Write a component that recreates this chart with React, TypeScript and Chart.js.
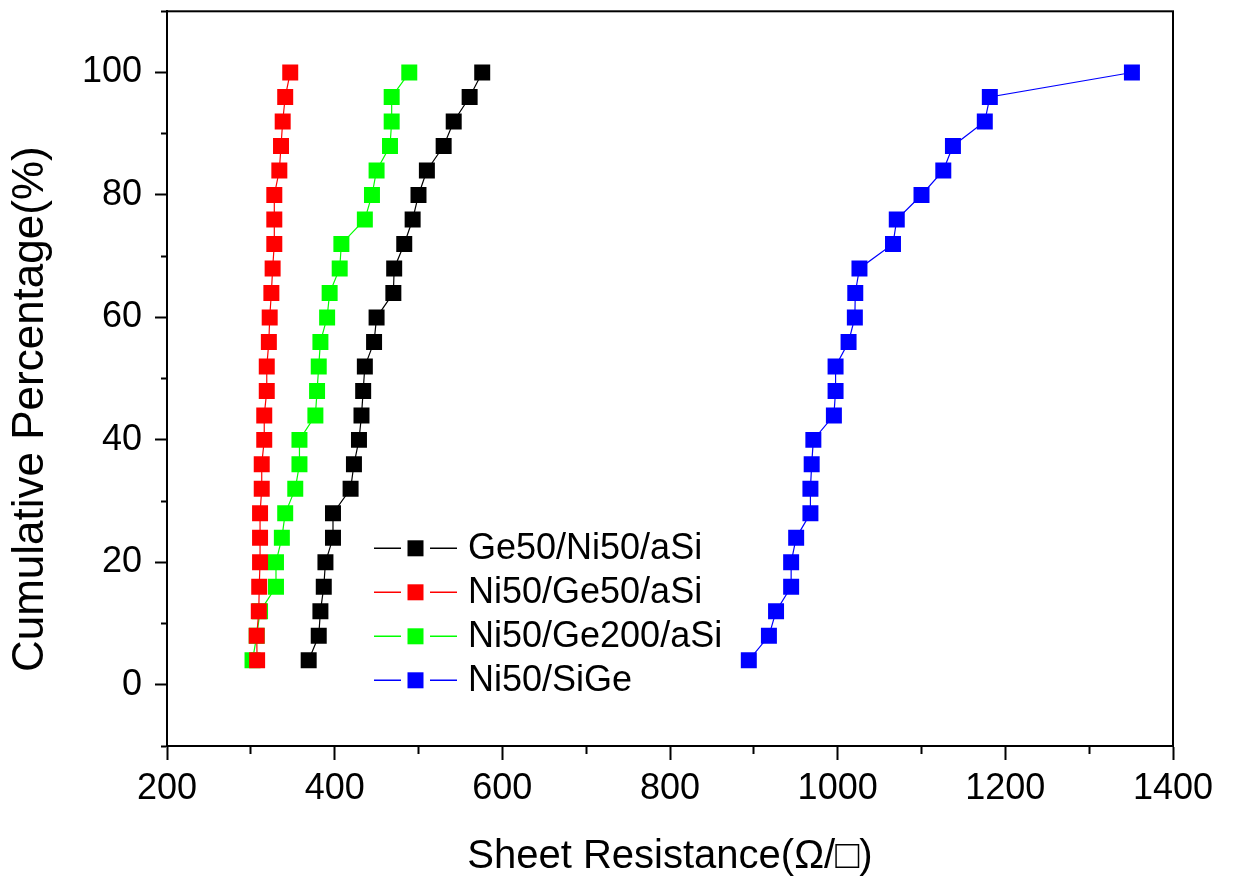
import React, { useEffect, useRef } from 'react';
import { Chart, registerables } from 'chart.js';

Chart.register(...registerables);

// Cumulative percentage levels (y values)
const percent = [4, 8, 12, 16, 20, 24, 28, 32, 36, 40, 44, 48, 52, 56, 60, 64, 68, 72, 76, 80, 84, 88, 92, 96, 100];

// Sheet resistance values (x) for each series
const ge50Ni50aSi = [369, 381, 383, 387, 389, 398, 398, 419, 423, 429, 432, 434, 436, 447, 450, 470, 471, 483, 493, 500, 510, 530, 542, 561, 576];
const ni50Ge50aSi = [307.5, 307, 309.5, 310, 311, 311, 311, 313, 313, 316, 316, 319, 319, 321.5, 322.5, 324.5, 326, 328, 328, 328, 334, 336, 338, 341, 347];
const ni50Ge200aSi = [302, 307, 311, 330, 330, 337, 341, 353, 358, 358, 377, 379, 381, 383, 391, 394, 406, 408, 436, 444.5, 450, 466, 468, 468, 489];
const ni50SiGe = [894, 918, 926.5, 944.5, 944.5, 950.5, 967.5, 967.5, 969, 971, 995.5, 997.5, 997.5, 1013, 1020.5, 1021, 1026, 1066, 1070.5, 1100, 1126, 1137.5, 1175.5, 1181.5, 1351];

const seriesNames = ['Ge50/Ni50/aSi', 'Ni50/Ge50/aSi', 'Ni50/Ge200/aSi', 'Ni50/SiGe'];
const seriesColors = ['#000000', '#ff0000', '#00ff00', '#0000ff'];
const seriesValues = [ge50Ni50aSi, ni50Ge50aSi, ni50Ge200aSi, ni50SiGe];

const xTitle = 'Sheet Resistance(\u03A9/\u25A1)';
const yTitle = 'Cumulative Percentage(%)';

const FONT = '"Liberation Sans", Arial, sans-serif';

const framePlugin = {
  id: 'frame',
  afterDatasetsDraw(chart: any) {
    const { ctx, chartArea: a } = chart;
    ctx.save();
    ctx.strokeStyle = '#000';
    ctx.lineWidth = 2;
    ctx.strokeRect(a.left, a.top, a.right - a.left, a.bottom - a.top);
    ctx.restore();
  },
};

const innerLegendPlugin = {
  id: 'innerLegend',
  afterDraw(chart: any) {
    const { ctx, chartArea: a } = chart;
    const x0 = a.left + 207;
    const y0 = a.top + 537;
    const rowH = 44;
    ctx.save();
    chart.data.datasets.forEach((ds: any, i: number) => {
      const y = y0 + i * rowH;
      ctx.strokeStyle = ds.borderColor;
      ctx.lineWidth = 1.5;
      ctx.beginPath();
      ctx.moveTo(x0, y);
      ctx.lineTo(x0 + 27, y);
      ctx.moveTo(x0 + 56, y);
      ctx.lineTo(x0 + 83, y);
      ctx.stroke();
      ctx.fillStyle = ds.backgroundColor;
      ctx.fillRect(x0 + 33.5, y - 8, 16, 16);
      ctx.fillStyle = '#000';
      ctx.font = `36px ${FONT}`;
      ctx.textAlign = 'left';
      ctx.textBaseline = 'middle';
      ctx.fillText(ds.label, x0 + 94, y + 1);
    });
    ctx.restore();
  },
};

export default function App() {
  const canvasRef = useRef<HTMLCanvasElement | null>(null);

  useEffect(() => {
    document.body.style.margin = '0';
    const canvas = canvasRef.current;
    if (!canvas) return;

    const datasets = seriesNames.map((name, i) => ({
      label: name,
      data: seriesValues[i].map((x, j) => ({ x, y: percent[j] })),
      borderColor: seriesColors[i],
      backgroundColor: seriesColors[i],
      borderWidth: 1.2,
      showLine: true,
      pointStyle: 'rect',
      pointRadius: 11.3,
      pointHoverRadius: 11.3,
      pointBorderWidth: 0,
      pointBackgroundColor: seriesColors[i],
      tension: 0,
    }));

    const chart = new Chart(canvas, {
      type: 'scatter',
      data: { datasets },
      plugins: [framePlugin, innerLegendPlugin],
      options: {
        responsive: false,
        animation: false,
        events: [],
        layout: { padding: { top: 8, right: 65, bottom: 0, left: 0 } },
        plugins: {
          legend: { display: false },
          tooltip: { enabled: false },
        },
        scales: {
          x: {
            type: 'linear',
            min: 200,
            max: 1400,
            afterFit: (scale: any) => {
              scale.height = 142;
            },
            border: { display: true, color: '#000', width: 2 },
            grid: {
              display: true,
              drawOnChartArea: false,
              drawTicks: true,
              tickLength: 14,
              tickColor: '#000',
              tickWidth: 2,
              tickBorderDash: (ctx: any) => (ctx.tick && ctx.tick.value % 200 === 0 ? [] : [7, 100]),
            },
            ticks: {
              stepSize: 100,
              autoSkip: false,
              maxRotation: 0,
              padding: 7,
              color: '#000',
              font: { family: FONT, size: 36, lineHeight: 1.2 },
              callback: (v: any) => (Number(v) % 200 === 0 ? String(v) : ''),
            },
            title: {
              display: true,
              text: xTitle,
              color: '#000',
              font: { family: FONT, size: 40, lineHeight: 1.2 },
              padding: { top: 0, bottom: 7 },
            },
          },
          y: {
            type: 'linear',
            min: -10,
            max: 110,
            afterFit: (scale: any) => {
              scale.width = 167;
              scale.paddingTop = 0;
              scale.paddingBottom = 0;
            },
            border: { display: true, color: '#000', width: 2 },
            grid: {
              display: true,
              drawOnChartArea: false,
              drawTicks: true,
              tickLength: 12,
              tickColor: '#000',
              tickWidth: 2,
              tickBorderDash: (ctx: any) => (ctx.tick && ctx.tick.value % 20 === 0 ? [] : [0, 6, 6, 100]),
            },
            ticks: {
              stepSize: 10,
              autoSkip: false,
              padding: 13,
              color: '#000',
              font: { family: FONT, size: 36, lineHeight: 1.2 },
              callback: (v: any) => (Number(v) % 20 === 0 ? String(v) : ''),
            },
            title: {
              display: true,
              text: yTitle + '     ',
              color: '#000',
              font: { family: FONT, size: 44, lineHeight: 1.2 },
              padding: { top: 4, bottom: 0 },
            },
          },
        },
      },
    } as any);

    return () => {
      chart.destroy();
    };
  }, []);

  return (
    <div style={{ width: 1238, height: 888, background: '#fff' }}>
      <canvas ref={canvasRef} width={1238} height={888} style={{ display: 'block' }} />
    </div>
  );
}
